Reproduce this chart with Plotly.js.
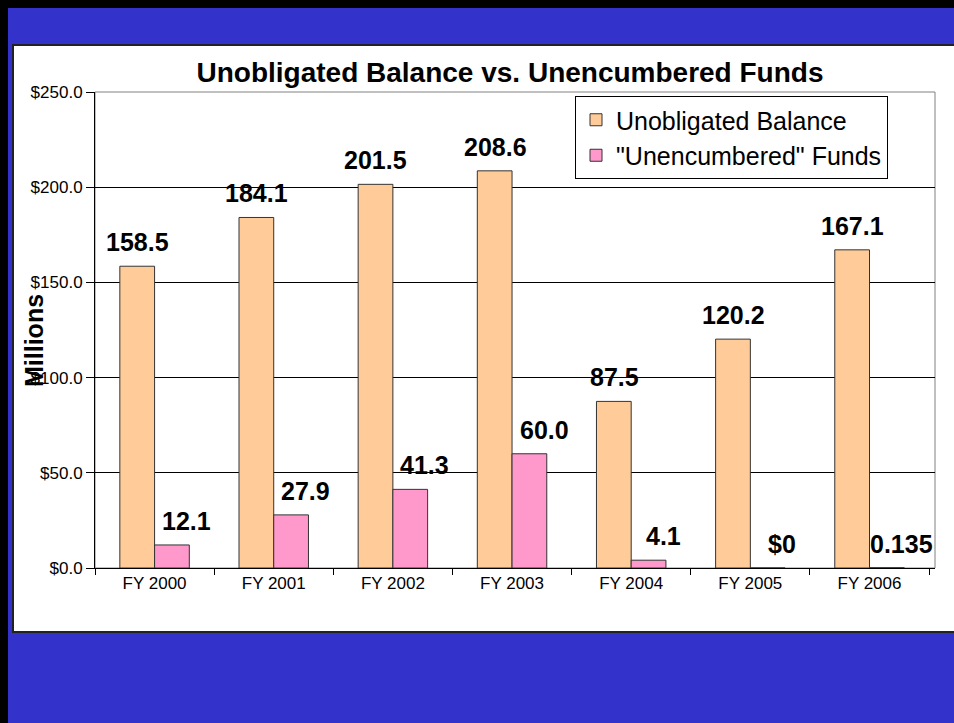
<!DOCTYPE html>
<html>
<head>
<meta charset="utf-8">
<script src="https://cdn.plot.ly/plotly-3.0.1.min.js"></script>
<style>html,body{margin:0;padding:0;background:#3333CC;}#chart{width:954px;height:723px;}</style>
</head>
<body>
<div id="chart"></div>
<script>
// ---- data ----
const categories = ["FY 2000", "FY 2001", "FY 2002", "FY 2003", "FY 2004", "FY 2005", "FY 2006"];
const unobligated = [158.5, 184.1, 201.5, 208.6, 87.5, 120.2, 167.1];
const unencumbered = [12.1, 27.9, 41.3, 60.0, 4.1, 0, 0.135];
const unobligatedLabels = ["158.5", "184.1", "201.5", "208.6", "87.5", "120.2", "167.1"];
const unencumberedLabels = ["12.1", "27.9", "41.3", "60.0", "4.1", "$0", "0.135"];
const seriesNames = ["Unobligated Balance", "\"Unencumbered\" Funds"];
const yTicks = [0, 50, 100, 150, 200, 250];
const yTickText = ["$0.0", "$50.0", "$100.0", "$150.0", "$200.0", "$250.0"];

// ---- layout helpers (pixel -> paper) ----
const L = 95, R = 19, T = 92, B = 155, W = 954, H = 723;
const pw = W - L - R, ph = H - T - B;
const px = x => (x - L) / pw;
const py = y => (H - B - y) / ph;

const font = "Arial, 'Liberation Sans', sans-serif";

const traces = [
  {
    type: "bar", name: seriesNames[0], x: categories, y: unobligated,
    marker: {color: "#FFCC99", line: {color: "#333333", width: 1}},
    hoverinfo: "none"
  },
  {
    type: "bar", name: seriesNames[1], x: categories, y: unencumbered,
    marker: {color: "#FF99CC", line: {color: "#333333", width: 1}},
    hoverinfo: "none"
  }
];

const labelFont = {family: font, size: 25, color: "#000"};
const annotations = [];
categories.forEach((c, i) => {
  annotations.push({x: c, y: unobligated[i], xref: "x", yref: "y", text: "<b>" + unobligatedLabels[i] + "</b>",
    showarrow: false, xshift: -17, yshift: 8, yanchor: "bottom", font: labelFont});
  annotations.push({x: c, y: unencumbered[i], xref: "x", yref: "y", text: "<b>" + unencumberedLabels[i] + "</b>",
    showarrow: false, xshift: 32, yshift: 8, yanchor: "bottom", font: labelFont});
});
annotations.push({
  xref: "paper", yref: "paper", x: px(34), y: py(340), text: "<b>Millions</b>", textangle: -90,
  showarrow: false, xanchor: "center", yanchor: "middle", font: {family: font, size: 25, color: "#000"}
});

const layout = {
  width: W, height: H,
  margin: {l: L, r: R, t: T, b: B, pad: 0},
  paper_bgcolor: "#3333CC",
  plot_bgcolor: "rgba(0,0,0,0)",
  barmode: "group", bargap: 0.417, bargroupgap: 0,
  showlegend: true,
  title: {
    text: "<b>Unobligated Balance vs. Unencumbered Funds</b>",
    font: {family: font, size: 28, color: "#000"},
    x: 510 / W, xanchor: "center", y: 1 - 72 / H, yanchor: "middle"
  },
  legend: {
    x: px(575), y: py(96), xanchor: "left", yanchor: "top",
    bgcolor: "#FFFFFF", bordercolor: "#000", borderwidth: 1,
    font: {family: font, size: 25, color: "#000"},
    traceorder: "normal", itemwidth: 30, tracegroupgap: 0
  },
  xaxis: {
    type: "category", showline: true, linecolor: "#000", linewidth: 1,
    ticks: "outside", tickson: "boundaries", ticklen: 6, tickcolor: "#000",
    tickfont: {family: font, size: 17, color: "#000"}, showgrid: false, fixedrange: true
  },
  yaxis: {
    range: [0, 250], tickmode: "array", tickvals: yTicks, ticktext: yTickText,
    showline: true, linecolor: "#000", linewidth: 1,
    ticks: "outside", ticklen: 8, tickcolor: "#000",
    showgrid: true, gridcolor: "#000", gridwidth: 1, zeroline: false,
    tickfont: {family: font, size: 17, color: "#000"}, fixedrange: true
  },
  shapes: [
    {type: "rect", xref: "paper", yref: "paper", x0: px(0), x1: px(8), y0: py(H), y1: py(0),
      fillcolor: "#000", line: {width: 0}, layer: "below"},
    {type: "rect", xref: "paper", yref: "paper", x0: px(0), x1: px(W), y0: py(8), y1: py(0),
      fillcolor: "#000", line: {width: 0}, layer: "below"},
    {type: "rect", xref: "paper", yref: "paper", x0: px(13), x1: px(W + 5), y0: py(632), y1: py(45),
      fillcolor: "#FFFFFF", line: {color: "#222222", width: 2}, layer: "below"},
    {type: "rect", xref: "paper", yref: "paper", x0: 0, x1: 1, y0: 0, y1: 1,
      fillcolor: "rgba(0,0,0,0)", line: {color: "#808080", width: 1}, layer: "below"}
  ],
  annotations: annotations
};

Plotly.newPlot("chart", traces, layout, {displayModeBar: false, staticPlot: true});
</script>
</body>
</html>
